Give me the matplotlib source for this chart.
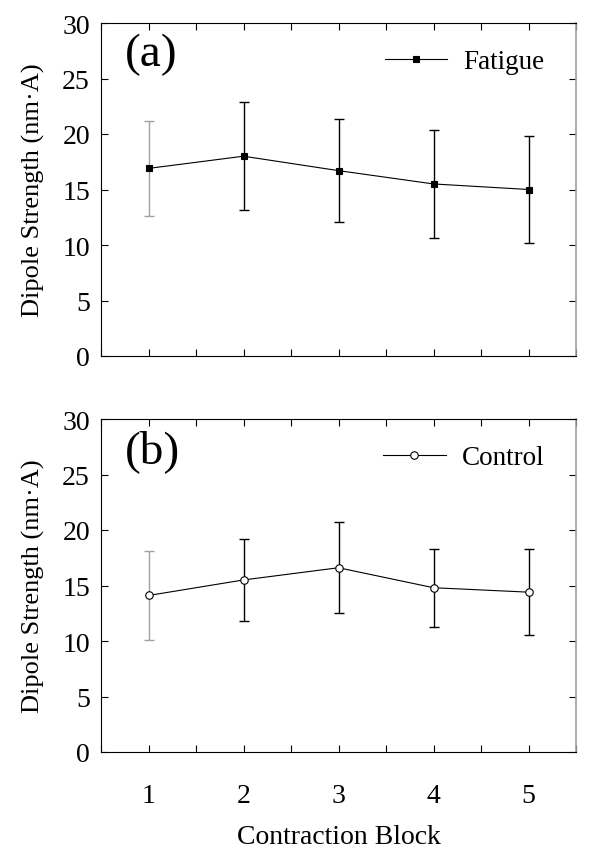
"""Dipole strength across contraction blocks, fatigue vs control."""

import matplotlib

matplotlib.use("Agg")
import matplotlib.pyplot as plt
import matplotlib.ticker as mticker

BLOCKS = [1, 2, 3, 4, 5]

FATIGUE_MEAN = [16.9, 18.0, 16.7, 15.5, 15.0]
FATIGUE_SD = [4.3, 4.85, 4.65, 4.85, 4.8]

CONTROL_MEAN = [14.1, 15.5, 16.6, 14.8, 14.4]
CONTROL_SD = [4.0, 3.7, 4.1, 3.5, 3.9]

plt.rcParams["font.family"] = ["Liberation Serif", "DejaVu Serif"]


def panel(ax, mean, sd, label, tag, face):
    # first error bar is drawn grey in the original
    colors = ["#a0a0a0"] + ["black"] * (len(BLOCKS) - 1)
    for x, m, s, c in zip(BLOCKS, mean, sd, colors):
        ax.errorbar(x, m, yerr=s, fmt="none", ecolor=c, elinewidth=1.0,
                    capsize=3.6, capthick=1.0, zorder=2)
    square = face == "black"
    ax.plot(BLOCKS, mean, color="black", linewidth=0.8, marker="s" if square else "o",
            markersize=5.0 if square else 5.4, markerfacecolor=face,
            markeredgecolor="black", markeredgewidth=0.8, label=label, zorder=3)
    ax.set_xlim(0.5, 5.5)
    ax.set_ylim(0, 30)
    ax.xaxis.set_major_locator(mticker.MultipleLocator(0.5))
    ax.yaxis.set_major_locator(mticker.MultipleLocator(5))
    ax.tick_params(direction="in", top=True, right=True, length=5, width=0.8,
                   labelsize=20, pad=8)
    ax.tick_params(axis="x", pad=22)
    ax.set_ylabel("Dipole Strength (nm\u00b7A)", fontsize=19, labelpad=12)
    ax.spines["right"].set_color("#a0a0a0")
    ax.spines["right"].set_linewidth(1.2)
    ax.text(0.05, 0.97, tag, transform=ax.transAxes, fontsize=34, va="top", ha="left")
    ax.legend(loc="upper right", frameon=False, fontsize=19.5, handlelength=2.3,
              handletextpad=0.6, bbox_to_anchor=(0.985, 0.995))


fig = plt.figure(figsize=(5.9, 8.62), dpi=100)
ax1 = fig.add_axes([101 / 590, 1 - 357 / 862, 475 / 590, 333 / 862])
ax2 = fig.add_axes([101 / 590, 1 - 753 / 862, 475 / 590, 333 / 862])

panel(ax1, FATIGUE_MEAN, FATIGUE_SD, "Fatigue", "(a)", "black")
panel(ax2, CONTROL_MEAN, CONTROL_SD, "Control", "(b)", "white")

ax1.set_xticklabels([])
ax2.xaxis.set_major_formatter(
    mticker.FuncFormatter(lambda v, _: f"{int(v)}" if abs(v - round(v)) < 1e-6 else ""))
ax2.set_xlabel("Contraction Block", fontsize=20, labelpad=12)

fig.savefig("out.png", dpi=100)
